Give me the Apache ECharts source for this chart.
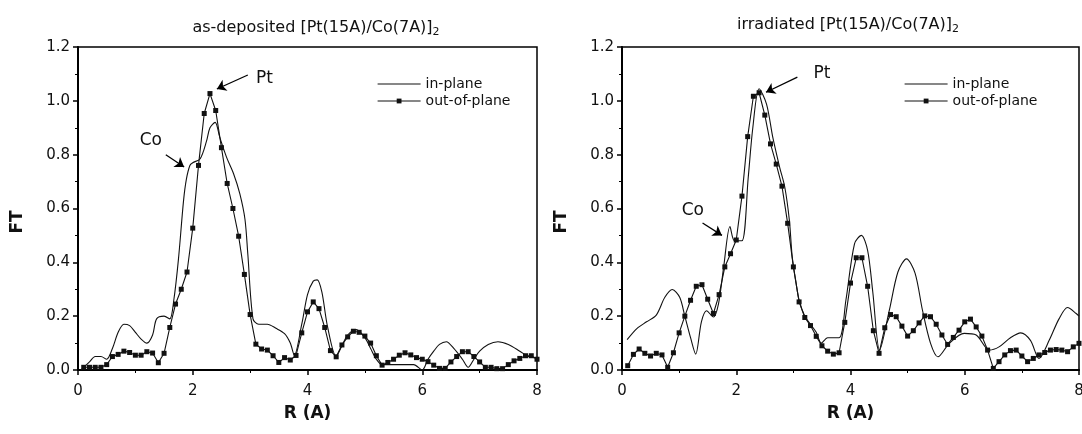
<!DOCTYPE html>
<html>
<head>
<meta charset="utf-8">
<script src="https://cdn.jsdelivr.net/npm/echarts@6/dist/echarts.min.js"></script>
<style>
html,body{margin:0;padding:0;background:#fff;}
#c{width:1082px;height:434px;}
</style>
</head>
<body>
<div id="c"></div>
<script>
// ---- data ----
const titles = ['as-deposited [Pt(15A)/Co(7A)]', 'irradiated [Pt(15A)/Co(7A)]'];
const seriesNames = ['in-plane', 'out-of-plane'];

const leftInR  = [0.05,0.1,0.2,0.3,0.4,0.5,0.6,0.7,0.8,0.9,1.0,1.1,1.2,1.3,1.37,1.5,1.6,1.67,1.75,1.84,1.89,1.95,2.0,2.13,2.24,2.3,2.39,2.47,2.59,2.71,2.82,2.91,2.96,3.05,3.15,3.3,3.45,3.6,3.7,3.77,3.9,4.0,4.1,4.17,4.25,4.35,4.5,4.6,4.7,4.85,5.0,5.1,5.2,5.3,5.5,5.7,5.85,6.0,6.1,6.2,6.3,6.42,6.55,6.7,6.8,6.9,7.0,7.15,7.32,7.5,7.7,7.85,8.0];
const leftInFT = [0,0.01,0.03,0.05,0.05,0.04,0.08,0.14,0.17,0.165,0.14,0.115,0.10,0.13,0.19,0.2,0.19,0.26,0.41,0.63,0.71,0.76,0.77,0.785,0.85,0.90,0.92,0.865,0.79,0.73,0.655,0.56,0.43,0.19,0.17,0.17,0.155,0.135,0.10,0.055,0.17,0.28,0.33,0.335,0.29,0.16,0.05,0.09,0.13,0.15,0.12,0.08,0.04,0.02,0.02,0.02,0.02,0.0,0.04,0.07,0.095,0.105,0.08,0.04,0.01,0.04,0.07,0.095,0.105,0.095,0.07,0.05,0.045];

const leftOutR  = [0.1,0.2,0.3,0.4,0.5,0.6,0.7,0.8,0.9,1.0,1.1,1.2,1.3,1.4,1.5,1.6,1.7,1.8,1.9,2.0,2.1,2.2,2.3,2.4,2.5,2.6,2.7,2.8,2.9,3.0,3.1,3.2,3.3,3.4,3.5,3.6,3.7,3.8,3.9,4.0,4.1,4.2,4.3,4.4,4.5,4.6,4.7,4.8,4.9,5.0,5.1,5.2,5.3,5.4,5.5,5.6,5.7,5.8,5.9,6.0,6.1,6.2,6.3,6.4,6.5,6.6,6.7,6.8,6.9,7.0,7.1,7.2,7.3,7.4,7.5,7.6,7.7,7.8,7.9,8.0];
const leftOutFT = [0.01,0.01,0.01,0.01,0.02,0.05,0.058,0.07,0.065,0.055,0.055,0.068,0.063,0.027,0.062,0.158,0.245,0.30,0.364,0.527,0.76,0.953,1.027,0.964,0.826,0.693,0.60,0.497,0.355,0.206,0.096,0.078,0.074,0.053,0.028,0.046,0.037,0.054,0.138,0.216,0.253,0.228,0.158,0.072,0.049,0.093,0.123,0.144,0.14,0.126,0.10,0.053,0.018,0.028,0.04,0.055,0.064,0.056,0.046,0.04,0.031,0.018,0.006,0.006,0.03,0.05,0.068,0.068,0.05,0.03,0.01,0.01,0.005,0.005,0.02,0.034,0.043,0.053,0.053,0.04];

const rightInR  = [0.09,0.26,0.43,0.6,0.75,0.88,1.01,1.1,1.2,1.29,1.39,1.48,1.6,1.69,1.78,1.89,1.97,2.1,2.21,2.29,2.4,2.53,2.64,2.76,2.85,2.93,2.98,3.05,3.1,3.2,3.3,3.4,3.49,3.6,3.8,3.92,4.07,4.19,4.3,4.39,4.51,4.68,4.83,4.98,5.13,5.26,5.4,5.53,5.73,5.99,6.2,6.43,6.6,6.8,6.98,7.15,7.3,7.48,7.65,7.8,7.95,8.0];
const rightInFT = [0.113,0.154,0.179,0.204,0.27,0.299,0.27,0.2,0.12,0.059,0.179,0.22,0.197,0.247,0.383,0.533,0.48,0.48,0.716,0.9,1.045,0.988,0.864,0.753,0.679,0.556,0.42,0.32,0.26,0.2,0.17,0.14,0.10,0.12,0.12,0.26,0.469,0.5,0.444,0.29,0.074,0.222,0.364,0.413,0.36,0.222,0.1,0.049,0.099,0.136,0.13,0.074,0.086,0.12,0.138,0.11,0.043,0.111,0.19,0.232,0.21,0.2];

const rightOutR  = [0.1,0.2,0.3,0.4,0.5,0.6,0.7,0.8,0.9,1.0,1.1,1.2,1.3,1.4,1.5,1.6,1.7,1.8,1.9,2.0,2.1,2.2,2.3,2.4,2.5,2.6,2.7,2.8,2.9,3.0,3.1,3.2,3.3,3.4,3.5,3.6,3.7,3.8,3.9,4.0,4.1,4.2,4.3,4.4,4.5,4.6,4.7,4.8,4.9,5.0,5.1,5.2,5.3,5.4,5.5,5.6,5.7,5.8,5.9,6.0,6.1,6.2,6.3,6.4,6.5,6.6,6.7,6.8,6.9,7.0,7.1,7.2,7.3,7.4,7.5,7.6,7.7,7.8,7.9,8.0];
const rightOutFT = [0.016,0.058,0.078,0.062,0.052,0.062,0.056,0.01,0.064,0.138,0.2,0.259,0.311,0.317,0.263,0.21,0.28,0.383,0.432,0.483,0.646,0.867,1.017,1.03,0.947,0.84,0.765,0.683,0.545,0.383,0.253,0.195,0.165,0.125,0.09,0.07,0.059,0.064,0.177,0.323,0.417,0.417,0.311,0.146,0.062,0.157,0.206,0.198,0.163,0.126,0.146,0.175,0.201,0.198,0.17,0.13,0.095,0.121,0.148,0.179,0.189,0.16,0.126,0.074,0.006,0.031,0.056,0.072,0.074,0.052,0.031,0.043,0.056,0.065,0.074,0.076,0.074,0.068,0.086,0.099];

// annotations in data coordinates (text centre, arrow tail, arrow head)
const annotations = [
  {grid:0, text:'Pt', at:[3.25,1.084], from:[2.96,1.096], to:[2.42,1.044]},
  {grid:0, text:'Co', at:[1.27,0.854], from:[1.53,0.80],  to:[1.85,0.754]},
  {grid:1, text:'Pt', at:[3.5,1.10],   from:[3.07,1.088], to:[2.52,1.032]},
  {grid:1, text:'Co', at:[1.24,0.594], from:[1.41,0.546], to:[1.75,0.50]}
];

// ---- build ----
const zip = (a,b) => a.map((v,i)=>[v,b[i]]);
const FONT = 'DejaVu Sans';
const INK = '#111';

function xAx(gi){
  return {type:'value', gridIndex:gi, min:0, max:8, interval:2,
    name:'R (A)', nameLocation:'middle', nameGap:35,
    nameTextStyle:{fontFamily:FONT, fontSize:17, fontWeight:'bold', color:INK},
    axisLine:{show:true, lineStyle:{color:'#000', width:2}},
    axisTick:{show:true, inside:false, length:5, lineStyle:{color:'#000', width:1.5}},
    minorTick:{show:true, splitNumber:2, length:3, lineStyle:{color:'#000', width:1}},
    axisLabel:{fontFamily:FONT, fontSize:15, color:INK, margin:14},
    splitLine:{show:false}};
}
function yAx(gi){
  return {type:'value', gridIndex:gi, min:0, max:1.2, interval:0.2,
    axisLine:{show:true, lineStyle:{color:'#000', width:2}},
    axisTick:{show:true, inside:false, length:5, lineStyle:{color:'#000', width:1.5}},
    minorTick:{show:true, splitNumber:2, length:3, lineStyle:{color:'#000', width:1}},
    axisLabel:{fontFamily:FONT, fontSize:15, color:INK, margin:8, formatter:v=>v.toFixed(1)},
    splitLine:{show:false}};
}
function arrowLines(gi){
  return annotations.filter(a=>a.grid===gi).map(a=>[{coord:a.from},{coord:a.to}]);
}
function inSeries(gi, data){
  return {name:seriesNames[0], type:'line', xAxisIndex:gi, yAxisIndex:gi, data:data,
    symbol:'none', smooth:0.3, lineStyle:{color:INK, width:1.1}, itemStyle:{color:INK},
    silent:true,
    markLine:{silent:true, symbol:['none','arrow'], symbolSize:9, label:{show:false},
      lineStyle:{color:'#000', width:1.3, type:'solid'}, emphasis:{disabled:true},
      data:arrowLines(gi)}};
}
function outSeries(gi, data){
  return {name:seriesNames[1], type:'line', xAxisIndex:gi, yAxisIndex:gi, data:data,
    symbol:'rect', symbolSize:5, showSymbol:true, smooth:false,
    lineStyle:{color:INK, width:1.1}, itemStyle:{color:INK}, silent:true};
}
function legendAt(left){
  return {left:left, top:77, orient:'vertical', selectedMode:false, padding:0,
    itemWidth:43, itemHeight:6, itemGap:3,
    lineStyle:{width:1.2, color:INK},
    textStyle:{fontFamily:FONT, fontSize:14, color:INK},
    data:[{name:seriesNames[0], itemStyle:{opacity:0}}, {name:seriesNames[1]}]};
}
function titleAt(cx, top, txt){
  return {text:txt+'{s|2}', left:cx, top:top, textAlign:'center', padding:0,
    textStyle:{fontFamily:FONT, fontSize:16, fontWeight:'normal', color:INK,
      rich:{s:{fontFamily:FONT, fontSize:11, color:INK, padding:[9,0,0,0]}}}};
}

const chart = echarts.init(document.getElementById('c'), null, {renderer:'canvas'});
const gridBase = {top:47, height:323, show:true, borderColor:'#000', borderWidth:1.5,
  backgroundColor:'transparent', containLabel:false, outerBoundsMode:'none'};
const option = {
  animation:false,
  backgroundColor:'#fff',
  textStyle:{fontFamily:FONT},
  title:[titleAt(316, 18, titles[0]), titleAt(848, 15, titles[1])],
  grid:[
    Object.assign({left:78, width:459}, gridBase),
    Object.assign({left:622, width:457}, gridBase)
  ],
  xAxis:[xAx(0), xAx(1)],
  yAxis:[yAx(0), yAx(1)],
  legend:[legendAt(377), legendAt(904)],
  series:[
    inSeries(0, zip(leftInR, leftInFT)),
    outSeries(0, zip(leftOutR, leftOutFT)),
    inSeries(1, zip(rightInR, rightInFT)),
    outSeries(1, zip(rightOutR, rightOutFT))
  ]
};
chart.setOption(option);

// annotation texts and y-axis names positioned from the axes
const g = [];
annotations.forEach(a=>{
  const p = chart.convertToPixel({gridIndex:a.grid}, a.at);
  g.push({type:'text', x:p[0], y:p[1], silent:true,
    style:{text:a.text, fontFamily:FONT, fontSize:17, fill:INK, align:'center', verticalAlign:'middle'}});
});
[0,1].forEach(gi=>{
  const p = chart.convertToPixel({gridIndex:gi}, [0, 0.55]);
  g.push({type:'text', x:p[0]-60, y:p[1], rotation:Math.PI/2, silent:true,
    style:{text:'FT', fontFamily:FONT, fontSize:17, fontWeight:'bold', fill:INK, align:'center', verticalAlign:'middle'}});
});
chart.setOption({graphic:g});
</script>
</body>
</html>
